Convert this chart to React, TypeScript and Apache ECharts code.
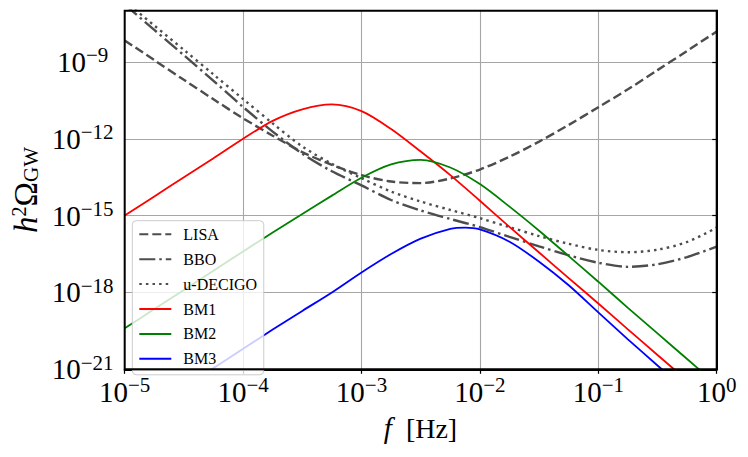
import React, { useEffect, useRef } from 'react';
import * as echarts from 'echarts';

// log10(f / Hz) sample positions
const logF = [-5, -4.75, -4.5, -4.25, -4, -3.75, -3.5, -3.25, -3, -2.75, -2.5, -2.25, -2, -1.75, -1.5, -1.25, -1, -0.75, -0.5, -0.25, 0];
// BM3 has one extra sample at its peak
const bm3LogF = [-5, -4.75, -4.5, -4.25, -4, -3.75, -3.5, -3.25, -3, -2.75, -2.5, -2.25, -2.125, -2, -1.75, -1.5, -1.25, -1, -0.75, -0.5, -0.25, 0];

// log10(h^2 Omega_GW)
const lisa = [-8.16, -8.93, -9.7, -10.46, -11.2, -11.88, -12.52, -13.02, -13.42, -13.67, -13.73, -13.55, -13.2, -12.7, -12.11, -11.46, -10.77, -10.07, -9.32, -8.57, -7.81];
const bbo = [-6.76, -7.75, -8.74, -9.74, -10.76, -11.72, -12.58, -13.27, -13.82, -14.39, -14.8, -15.13, -15.45, -15.83, -16.2, -16.55, -16.84, -17.0, -16.9, -16.62, -16.21];
const uDecigo = [-6.62, -7.58, -8.53, -9.49, -10.45, -11.4, -12.3, -12.98, -13.54, -14.06, -14.45, -14.78, -15.1, -15.45, -15.8, -16.1, -16.34, -16.43, -16.33, -16.03, -15.47];
const bm1 = [-15.0, -14.25, -13.5, -12.76, -12.0, -11.3, -10.85, -10.66, -10.92, -11.62, -12.5, -13.42, -14.42, -15.44, -16.44, -17.44, -18.43, -19.44, -20.44, -21.44, -22.44];
const bm2 = [-19.4, -18.65, -17.9, -17.15, -16.4, -15.66, -14.94, -14.22, -13.52, -13.0, -12.82, -13.12, -13.77, -14.65, -15.59, -16.58, -17.58, -18.6, -19.6, -20.6, -21.6];
const bm3 = [-23.2, -22.45, -21.7, -20.95, -20.2, -19.45, -18.72, -18.0, -17.22, -16.5, -15.9, -15.52, -15.47, -15.54, -16.02, -16.8, -17.72, -18.78, -19.83, -20.85, -21.85, -22.85];

const xTicks = [-5, -4, -3, -2, -1, 0];
const yTicks = [-21, -18, -15, -12, -9];
const legendNames = ['LISA', 'BBO', 'u-DECIGO', 'BM1', 'BM2', 'BM3'];

const FONT = '"Liberation Serif", "Times New Roman", serif';

function pow10Label(v: number): string {
  const e = Math.round(v);
  const sup = e === 0 ? '0' : (e < 0 ? '\u2212' : '') + Math.abs(e);
  return `{b|10}{s|${sup}}`;
}

const labelRich = {
  b: { fontSize: 29, fontFamily: FONT, color: '#000', lineHeight: 30 },
  s: { fontSize: 21, fontFamily: FONT, color: '#000', lineHeight: 20, padding: [0, 0, 13, 0] },
};

export default function App() {
  const ref = useRef<HTMLDivElement>(null);

  useEffect(() => {
    if (!ref.current) return;
    const chart = echarts.init(ref.current, null, { renderer: 'svg' });
    const mk = (xs: number[], vals: number[]) => xs.map((f, i) => [f, vals[i]]);
    const gray = '#4d4d4d';

    const grid = { left: 124.7, top: 10.7, width: 592, height: 358.6 };

    const lineSeries = (name: string, xs: number[], vals: number[], color: string, width: number, type: any) => ({
      name,
      type: 'line',
      data: mk(xs, vals),
      symbol: 'none',
      showSymbol: false,
      smooth: 0.3,
      clip: true,
      lineStyle: { color, width, type },
      itemStyle: { color },
    });

    const option: any = {
      animation: false,
      backgroundColor: '#fff',
      grid: { ...grid, containLabel: false, outerBoundsMode: 'none' },
      xAxis: {
        type: 'value',
        min: -5,
        max: 0,
        interval: 1,
        axisLine: { show: true, lineStyle: { color: '#000', width: 2 } },
        axisTick: { show: true, length: 4.5, lineStyle: { color: '#000', width: 1.2 }, customValues: xTicks },
        axisLabel: { formatter: pow10Label, margin: 7.5, rich: labelRich, customValues: xTicks },
        splitLine: { show: true, lineStyle: { color: '#a6a6a6', width: 1.1 } },
      },
      yAxis: {
        type: 'value',
        min: -21,
        max: -7,
        interval: 3,
        axisLine: { show: true, lineStyle: { color: '#000', width: 2 } },
        axisTick: { show: true, length: 4.5, lineStyle: { color: '#000', width: 1.2 }, customValues: yTicks },
        axisLabel: {
          formatter: (v: number) => (yTicks.indexOf(Math.round(v)) >= 0 && Math.abs(v - Math.round(v)) < 1e-6 ? pow10Label(v) : ''),
          margin: 42,
          align: 'center',
          rich: labelRich,
          customValues: yTicks,
        },
        splitLine: { show: true, lineStyle: { color: '#a6a6a6', width: 1.1 } },
      },
      legend: {
        orient: 'vertical',
        left: 132.3,
        top: 220.7,
        itemWidth: 32,
        itemHeight: 14,
        itemGap: 8.9,
        padding: [5.6, 6.7, 8, 6],
        backgroundColor: 'rgba(255,255,255,0.8)',
        borderColor: '#cccccc',
        borderWidth: 1,
        borderRadius: 4,
        selectedMode: false,
        itemStyle: { opacity: 0, borderWidth: 0 },
        textStyle: { fontFamily: FONT, fontSize: 16, color: '#000', padding: [0, 0, 0, 7] },
        data: legendNames,
      },
      series: [
        lineSeries('LISA', logF, lisa, gray, 2.4, [9, 4]),
        lineSeries('BBO', logF, bbo, gray, 2.4, [16, 4, 2.5, 4]),
        lineSeries('u-DECIGO', logF, uDecigo, gray, 2.4, [2.5, 4.1]),
        lineSeries('BM1', logF, bm1, '#ff0000', 1.8, 'solid'),
        lineSeries('BM2', logF, bm2, '#008000', 1.8, 'solid'),
        lineSeries('BM3', bm3LogF, bm3, '#0000ff', 1.8, 'solid'),
      ],
      graphic: [
        {
          type: 'rect',
          silent: true,
          z: 100,
          shape: { x: grid.left, y: grid.top, width: grid.width, height: grid.height },
          style: { fill: 'none', stroke: '#000', lineWidth: 2 },
        },
        {
          type: 'text',
          silent: true,
          x: 26,
          y: 190,
          rotation: Math.PI / 2,
          style: {
            text: '{h|h}{s|2}{o|\u03A9}{g|GW}',
            align: 'center',
            verticalAlign: 'middle',
            fill: '#000',
            rich: {
              h: { fontSize: 33, fontFamily: FONT, fontStyle: 'italic', fill: '#000' },
              s: { fontSize: 20, fontFamily: FONT, fill: '#000', padding: [0, 0, 14, 0] },
              o: { fontSize: 33, fontFamily: FONT, fill: '#000' },
              g: { fontSize: 21, fontFamily: FONT, fill: '#000', padding: [10, 0, 0, 0] },
            },
          },
        },
        {
          type: 'text',
          silent: true,
          x: 420.5,
          y: 428,
          style: {
            text: '{i|f}  [Hz]',
            fontSize: 28,
            fontFamily: FONT,
            align: 'center',
            verticalAlign: 'middle',
            fill: '#000',
            rich: {
              i: { fontSize: 29, fontFamily: FONT, fontStyle: 'italic', fill: '#000' },
            },
          },
        },
      ],
    };

    chart.setOption(option);
    return () => chart.dispose();
  }, []);

  return (
    <div
      ref={ref}
      style={{ position: 'fixed', left: 0, top: 0, width: 748, height: 457, background: '#fff' }}
    />
  );
}
